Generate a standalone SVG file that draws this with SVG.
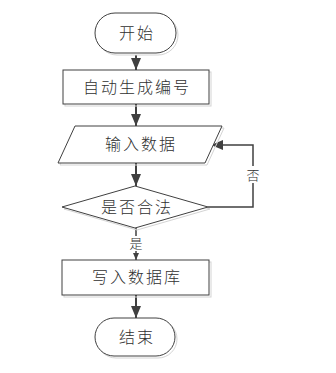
<svg xmlns="http://www.w3.org/2000/svg" width="336" height="373" viewBox="0 0 336 373">
<defs>
<style>
.sh{fill:none;stroke:#d4d4d4;stroke-width:1}
.nd{fill:#ffffff;stroke:#404040;stroke-width:1}
.tx{font-family:"Noto Sans CJK SC","Noto Sans",sans-serif;font-size:16px;fill:#303030;text-anchor:middle;letter-spacing:2px;font-weight:300}
.lb{font-family:"Noto Sans CJK SC","Noto Sans",sans-serif;font-size:13px;fill:#303030;text-anchor:middle;font-weight:300}
.ln{fill:none;stroke:#404040;stroke-width:2}
</style>
<marker id="ah" markerWidth="12" markerHeight="10" refX="12" refY="5" orient="auto" markerUnits="userSpaceOnUse">
<path d="M0,0 L12,5 L0,10 Z" fill="#404040"/>
</marker>
<marker id="ahs" markerWidth="7" markerHeight="6" refX="7" refY="3" orient="auto" markerUnits="userSpaceOnUse">
<path d="M0,0 L7,3 L0,6 Z" fill="#404040"/>
</marker>
</defs>
<rect width="336" height="373" fill="#ffffff"/>
<g id="connectors">
<line class="ln" x1="136" y1="55" x2="136" y2="70" marker-end="url(#ah)"/>
<line class="ln" x1="136" y1="104" x2="136" y2="126" marker-end="url(#ah)"/>
<line class="ln" x1="136" y1="163" x2="136" y2="186" marker-end="url(#ah)"/>
<line class="ln" x1="136" y1="228" x2="136" y2="236" style="stroke-width:1.5"/>
<line class="ln" x1="136" y1="251" x2="136" y2="260" style="stroke-width:1.5" marker-end="url(#ahs)"/>
<line class="ln" x1="136" y1="295" x2="136" y2="318" marker-end="url(#ah)"/>
<polyline class="ln" points="208,207 253,207 253,145 211,145" style="stroke-width:1.5" marker-end="url(#ah)"/>
<rect x="244" y="166" width="18" height="17" fill="#ffffff"/>
<text class="lb" x="253" y="180">否</text>
<text class="lb" x="136" y="248">是</text>
</g>
<g id="start">
<rect class="sh" x="97" y="15" width="81" height="40" rx="20"/>
<rect class="nd" x="95" y="13" width="81" height="40" rx="20"/>
<text class="tx" x="137" y="39">开始</text>
</g>
<g id="gen">
<rect class="sh" x="65" y="72" width="146" height="34"/>
<rect class="nd" x="63" y="70" width="146" height="34"/>
<text class="tx" x="137" y="93">自动生成编号</text>
</g>
<g id="input">
<polygon class="sh" points="77,128 224,128 207,165 60,165"/>
<polygon class="nd" points="75,126 222,126 205,163 58,163"/>
<text class="tx" x="141" y="150">输入数据</text>
</g>
<g id="check">
<polygon class="sh" points="137,188 210,209 137,230 64,209"/>
<polygon class="nd" points="135,186 208,207 135,228 62,207"/>
<text class="tx" x="137" y="213">是否合法</text>
</g>
<g id="write">
<rect class="sh" x="64" y="262" width="147" height="35"/>
<rect class="nd" x="62" y="260" width="147" height="35"/>
<text class="tx" x="137" y="283">写入数据库</text>
</g>
<g id="end">
<rect class="sh" x="97" y="320" width="80" height="38" rx="19"/>
<rect class="nd" x="95" y="318" width="80" height="38" rx="19"/>
<text class="tx" x="137" y="343">结束</text>
</g>
</svg>
